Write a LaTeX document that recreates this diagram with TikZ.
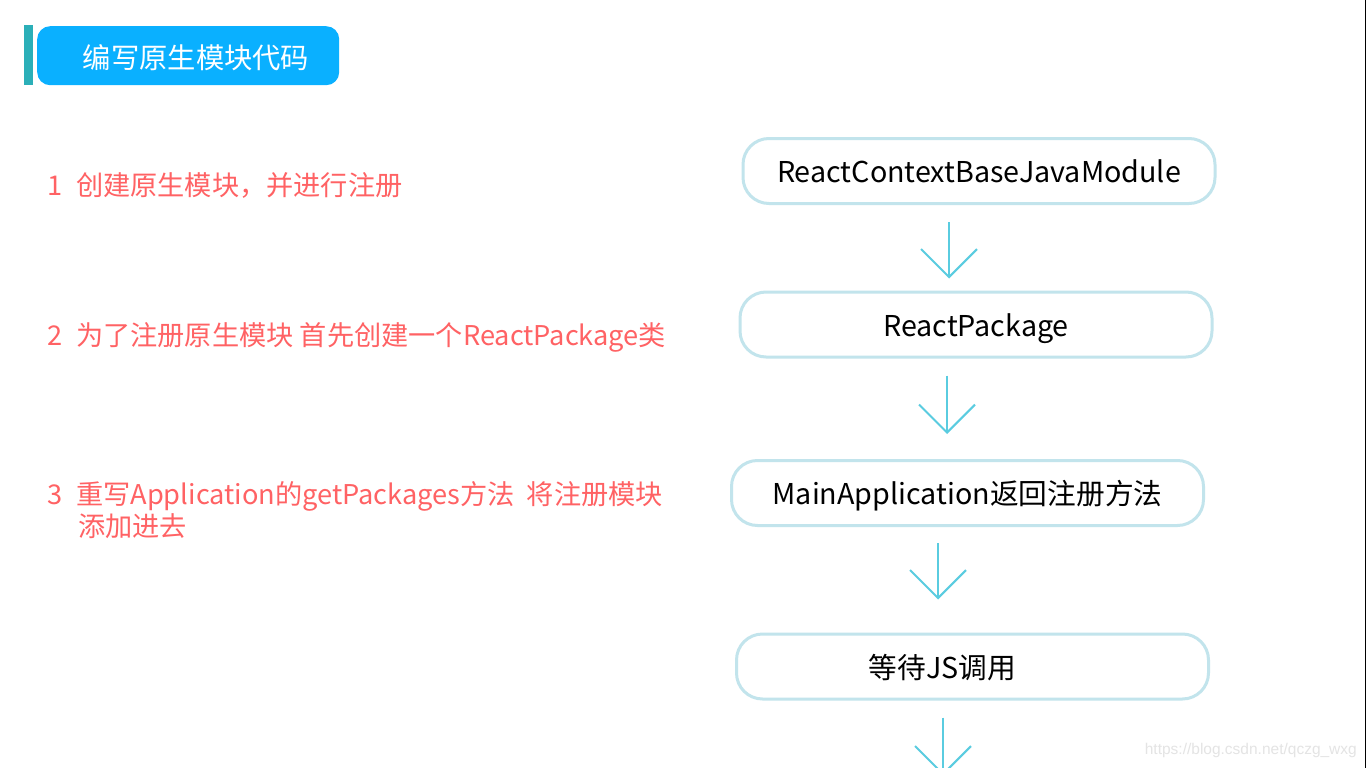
\documentclass[tikz,border=0pt]{standalone}
\usepackage{fontspec}
\setmainfont{Noto Sans CJK SC}
\newfontfamily\wmfont{Liberation Sans}
\usetikzlibrary{calc,arrows.meta}
\definecolor{titleblue}{HTML}{0AB0FF}
\definecolor{barteal}{HTML}{2BAFB8}
\definecolor{boxline}{HTML}{C2E4EC}
\definecolor{arrowcol}{HTML}{5ACCE0}
\definecolor{redtext}{HTML}{FF6264}
\definecolor{wmgray}{HTML}{E4E4E4}
\tikzset{
  flowbox/.style={draw=boxline, line width=3pt, rounded corners=26pt, fill=white,
    minimum width=472pt, minimum height=65pt, inner sep=0pt,
    text height=23pt, text depth=0pt,
    font=\fontsize{28.7}{32}\selectfont, text=black},
  flow/.style={draw=arrowcol, line width=2pt,
    -{Straight Barb[length=28pt,width=56pt,line width=2pt]}},
  lefttext/.style={anchor=west, inner sep=0pt, text=redtext, align=left,
    font=\fontsize{27.2}{32}\selectfont},
}
\begin{document}
\begin{tikzpicture}[x=1pt,y=-1pt]
\useasboundingbox (0,0) rectangle (1366,768);
\clip (0,0) rectangle (1366,768);
\fill[white] (0,0) rectangle (1366,768);
% title
\fill[barteal] (24,25) rectangle (33,85);
\node[fill=titleblue, rounded corners=13pt, minimum width=302pt, minimum height=59pt,
  inner sep=0pt, anchor=north west] (title) at (37,26) {};
\node[text=white, font=\fontsize{28.3}{32}\selectfont, inner sep=0pt] (titletext) at (196,58) {编写原生模块代码};
% left texts
\node[lefttext] (t1) at (47,185) {\makebox[29pt][l]{1}创建原生模块，并进行注册};
\node[lefttext] (t2) at (47,337) {\makebox[29pt][l]{2}为了注册原生模块 首先创建一个ReactPackage类};
\node[lefttext, anchor=north west] (t3) at (47,481) {\makebox[29pt][l]{3}重写Application的getPackages方法\ \ 将注册模块\\\makebox[31pt]{}添加进去};
% boxes
\node[flowbox] (b1) at (979,171) {ReactContextBaseJavaModule};
\node[flowbox] (b2) at (976,324.5) {ReactPackage};
\node[flowbox] (b3) at (967.5,493) {MainApplication返回注册方法};
\node[flowbox] (b4) at (972.5,666.5) {\hspace*{-60pt}等待JS调用};
% arrows
\coordinate (a1s) at ($(b1.south)+(-30,17)$);
\coordinate (a1e) at ($(b2.north)+(0,-12)$);
\draw[flow] (a1s) -- (a1s |- a1e);
\coordinate (a2s) at ($(b2.south)+(-29,17)$);
\coordinate (a2e) at ($(b3.north)+(0,-25)$);
\draw[flow] (a2s) -- (a2s |- a2e);
\coordinate (a3s) at ($(b3.south)+(-29.5,16)$);
\coordinate (a3e) at ($(b4.north)+(0,-33)$);
\draw[flow] (a3s) -- (a3s |- a3e);
\coordinate (a4s) at ($(b4.south)+(-29.5,17)$);
\coordinate (a4e) at ($(b4.south)+(-29.5,75)$);
\draw[flow] (a4s) -- (a4e);
% watermark
\node[anchor=east, inner sep=0pt, text=wmgray, font=\wmfont\fontsize{15.5}{18}\selectfont] (wm) at (1357,750) {https://blog.csdn.net/qczg\_wxg};
% right edge
\fill[black] (1364.5,0) rectangle (1366,768);
\end{tikzpicture}
\end{document}
